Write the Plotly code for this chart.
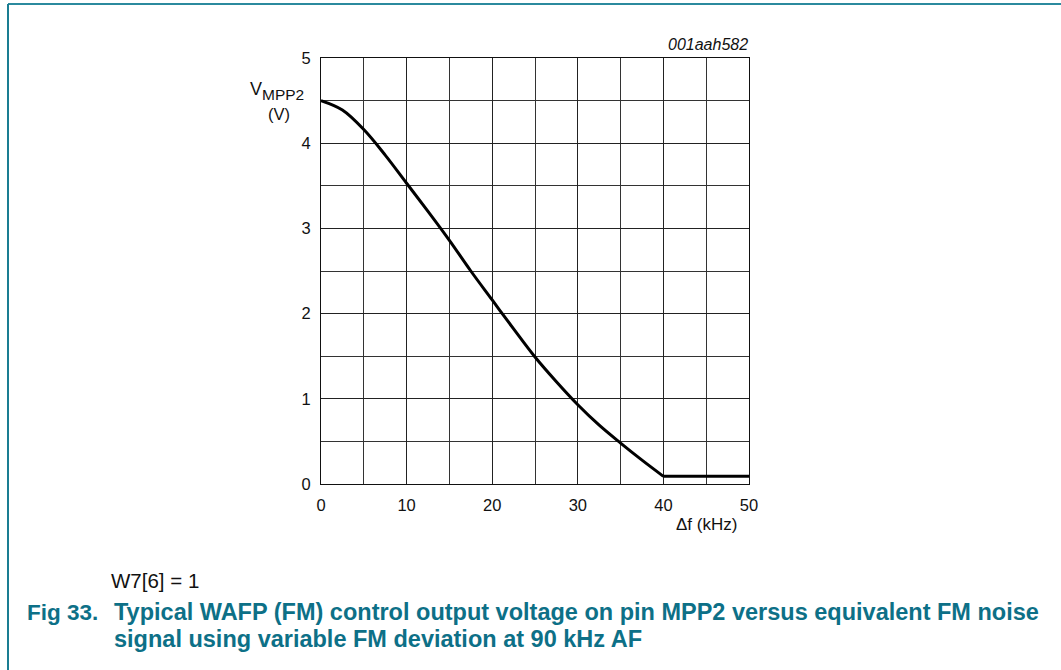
import plotly.graph_objects as go

# Data
freq_khz = [0, 2.5, 5, 7.5, 10, 12.5, 15, 17.5, 20, 22.5, 25, 27.5, 30, 32.5, 35, 37.5, 40, 50]
v_mpp2 = [4.5, 4.39, 4.16, 3.86, 3.53, 3.2, 2.86, 2.5, 2.16, 1.82, 1.49, 1.2, 0.93, 0.69, 0.48, 0.28, 0.09, 0.09]
x_ticks = [0, 10, 20, 30, 40, 50]
y_ticks = [0, 1, 2, 3, 4, 5]

W, H = 1061, 670
L, R, T, B = 321, 749, 58, 484
PW, PH = R - L, B - T


def px(xp):
    return (xp - L) / PW


def py(yp):
    return (B - yp) / PH


FONT = "Liberation Sans, Arial, sans-serif"
TEAL = "#0d7087"

knee = freq_khz.index(40)
fig = go.Figure()
fig.add_trace(go.Scatter(x=freq_khz[:knee + 1], y=v_mpp2[:knee + 1], mode="lines",
                         line=dict(color="black", width=3, shape="spline", smoothing=1.0),
                         showlegend=False, hoverinfo="skip"))
fig.add_trace(go.Scatter(x=freq_khz[knee:], y=v_mpp2[knee:], mode="lines",
                         line=dict(color="black", width=3),
                         showlegend=False, hoverinfo="skip"))

axis_common = dict(showgrid=True, gridcolor="#222", gridwidth=1, zeroline=False,
                   showline=True, linecolor="#111", linewidth=1, mirror=True,
                   ticks="", tickfont=dict(family=FONT, size=16.5, color="#111"),
                   minor=dict(showgrid=True, gridcolor="#333", gridwidth=1))

fig.update_xaxes(range=[0, 50], tickvals=x_ticks, ticklabelstandoff=6,
                 minor_dtick=5, **axis_common)
fig.update_yaxes(range=[0, 5], tickvals=y_ticks, ticklabelstandoff=6,
                 minor_dtick=0.5, **axis_common)

ann = []
ann.append(dict(text="V", x=px(264), y=py(89), xanchor="right", yanchor="middle",
                font=dict(family=FONT, size=18, color="#111")))
ann.append(dict(text="MPP2", x=px(260), y=py(94), xanchor="left", yanchor="middle",
                font=dict(family=FONT, size=15.5, color="#111")))
ann.append(dict(text="(V)", x=px(279), y=py(114), xanchor="center", yanchor="middle",
                font=dict(family=FONT, size=16.5, color="#111")))
ann.append(dict(text="<i>001aah582</i>", x=px(750), y=py(45), xanchor="right", yanchor="middle",
                font=dict(family=FONT, size=16, color="#111")))
ann.append(dict(text="Δf (kHz)", x=px(739), y=py(524), xanchor="right", yanchor="middle",
                font=dict(family=FONT, size=17, color="#111")))
ann.append(dict(text="W7[6] = 1", x=px(109), y=py(580), xanchor="left", yanchor="middle",
                font=dict(family=FONT, size=20.5, color="#111")))
ann.append(dict(text="<b>Fig 33.</b>", x=px(25), y=py(612), xanchor="left", yanchor="middle",
                font=dict(family=FONT, size=22.5, color=TEAL)))
ann.append(dict(text="<b>Typical WAFP (FM) control output voltage on pin MPP2 versus equivalent FM noise</b>",
                x=px(112), y=py(612), xanchor="left", yanchor="middle",
                font=dict(family=FONT, size=23.5, color=TEAL)))
ann.append(dict(text="<b>signal using variable FM deviation at 90 kHz AF</b>",
                x=px(112), y=py(639), xanchor="left", yanchor="middle",
                font=dict(family=FONT, size=23.5, color=TEAL)))
for a in ann:
    a.update(xref="paper", yref="paper", showarrow=False)

shapes = [
    dict(type="line", xref="paper", yref="paper", x0=px(8), x1=px(1061), y0=py(4), y1=py(4),
         line=dict(color="#2b8a9e", width=2)),
    dict(type="line", xref="paper", yref="paper", x0=px(8), x1=px(8), y0=py(4), y1=py(670),
         line=dict(color="#1a7d92", width=2)),
]

fig.update_layout(width=W, height=H, margin=dict(l=L, r=W - R, t=T, b=H - B),
                  paper_bgcolor="white", plot_bgcolor="white",
                  annotations=ann, shapes=shapes, showlegend=False)

fig.write_html("out.html", config={"displayModeBar": False},
               post_script="document.body.style.margin='0';document.body.style.overflow='hidden';")
